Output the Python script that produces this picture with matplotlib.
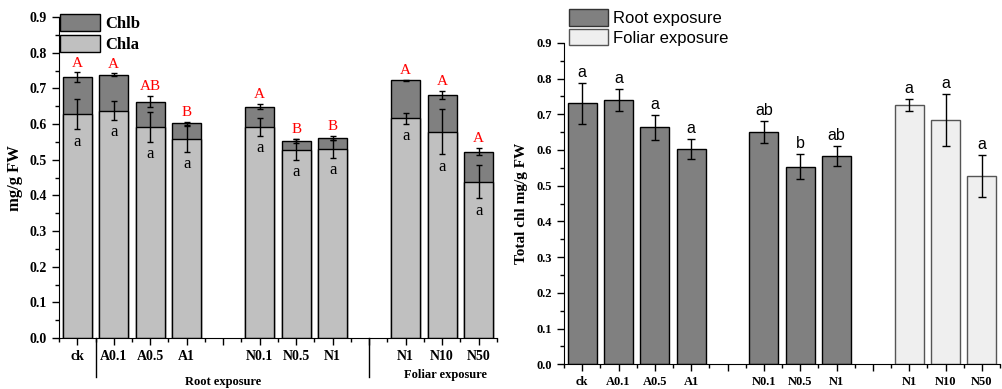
import numpy as np
import matplotlib
matplotlib.use('Agg')
import matplotlib.pyplot as plt
from matplotlib.patches import Patch
from matplotlib.ticker import MultipleLocator, FormatStrFormatter

# categories (blank slots split the groups)
labels = ['ck', 'A0.1', 'A0.5', 'A1', 'N0.1', 'N0.5', 'N1', 'N1', 'N10', 'N50']
pos = np.array([1, 2, 3, 4, 6, 7, 8, 10, 11, 12])

# left panel: stacked Chla + Chlb
chla = [0.627, 0.638, 0.592, 0.559, 0.592, 0.528, 0.530, 0.616, 0.578, 0.438]
chla_err = [0.042, 0.027, 0.041, 0.036, 0.026, 0.029, 0.024, 0.016, 0.063, 0.046]
total = [0.731, 0.738, 0.663, 0.602, 0.649, 0.552, 0.561, 0.723, 0.682, 0.523]
total_err = [0.014, 0.004, 0.015, 0.004, 0.007, 0.006, 0.006, 0.002, 0.012, 0.010]
upper_letters = ['A', 'A', 'AB', 'B', 'A', 'B', 'B', 'A', 'A', 'A']
lower_letters = ['a'] * 10

# right panel: total chl
tot2 = [0.731, 0.739, 0.663, 0.602, 0.650, 0.553, 0.583, 0.725, 0.685, 0.527]
tot2_err = [0.057, 0.031, 0.035, 0.028, 0.031, 0.035, 0.028, 0.017, 0.073, 0.059]
tot2_letters = ['a', 'a', 'a', 'a', 'ab', 'b', 'ab', 'a', 'a', 'a']
is_root = [True] * 7 + [False] * 3

serif = 'Liberation Serif'
sans = 'Liberation Sans'

fig = plt.figure(figsize=(10.02, 3.89), dpi=100)
ax1 = fig.add_axes([0.0589, 0.131, 0.437, 0.825])
ax2 = fig.add_axes([0.563, 0.0635, 0.435, 0.8265])


def style_axis(ax, fs):
    for s in ['top', 'right']:
        ax.spines[s].set_visible(False)
    ax.set_ylim(0, 0.9)
    ax.set_xlim(0.5, 12.45)
    ax.yaxis.set_major_locator(MultipleLocator(0.1))
    ax.yaxis.set_minor_locator(MultipleLocator(0.05))
    ax.yaxis.set_major_formatter(FormatStrFormatter('%.1f'))
    ax.set_xticks(np.arange(1, 13))
    ax.set_xticks(np.arange(0.5, 12.6, 0.5), minor=True)
    ticklab = [''] * 12
    for p, l in zip(pos, labels):
        ticklab[p - 1] = l
    ax.set_xticklabels(ticklab)
    ax.tick_params(which='major', direction='out', length=5, width=1, labelsize=fs)
    ax.tick_params(which='minor', direction='out', length=3, width=1)
    for t in ax.get_xticklabels() + ax.get_yticklabels():
        t.set_fontfamily(serif)
        t.set_fontweight('bold')


# ---- left panel
ax1.bar(pos, total, width=0.8, color='#808080', edgecolor='black', linewidth=1, zorder=2)
ax1.bar(pos, chla, width=0.8, color='#c0c0c0', edgecolor='black', linewidth=1, zorder=2)
ax1.errorbar(pos, total, yerr=total_err, fmt='none', ecolor='black', elinewidth=1,
             capsize=2.5, capthick=1, zorder=3)
ax1.errorbar(pos, chla, yerr=chla_err, fmt='none', ecolor='black', elinewidth=1,
             capsize=2.5, capthick=1, zorder=3)
for p, t, e, l in zip(pos, total, total_err, upper_letters):
    ax1.text(p, t + e + 0.008, l, ha='center', va='bottom', color='red',
             fontsize=11, family=serif)
for p, c, e, l in zip(pos, chla, chla_err, lower_letters):
    ax1.text(p, c - e - 0.012, l, ha='center', va='top', color='black',
             fontsize=12, family=serif)
style_axis(ax1, 10)
ax1.set_ylabel('mg/g FW', fontsize=12, family=serif, fontweight='bold', labelpad=5)

# group separators and names below the left axis
trans = ax1.get_xaxis_transform()
for x in [1.5, 9.0]:
    ax1.plot([x, x], [0, -0.12], transform=trans, color='black', lw=1, clip_on=False)
ax1.text(5.0, -0.137, 'Root exposure', transform=trans, ha='center', va='center',
         fontsize=9, family=serif, fontweight='bold')
ax1.text(11.1, -0.115, 'Foliar exposure', transform=trans, ha='center', va='center',
         fontsize=9, family=serif, fontweight='bold')

ax1.legend(handles=[Patch(facecolor='#808080', edgecolor='black', label='Chlb'),
                    Patch(facecolor='#c0c0c0', edgecolor='black', label='Chla')],
           loc='upper left', bbox_to_anchor=(0.002, 1.009), frameon=False,
           handlelength=2.4, handleheight=1.15, labelspacing=0.17,
           handletextpad=0.3, borderaxespad=0.0, borderpad=0.0,
           prop={'family': serif, 'weight': 'bold', 'size': 12})

# ---- right panel
colors = ['#808080' if r else '#efefef' for r in is_root]
edges = ['black' if r else '#555555' for r in is_root]
ax2.bar(pos, tot2, width=0.8, color=colors, edgecolor=edges, linewidth=1, zorder=2)
ax2.errorbar(pos, tot2, yerr=tot2_err, fmt='none', ecolor='black', elinewidth=1,
             capsize=3, capthick=1, zorder=3)
for p, t, e, l in zip(pos, tot2, tot2_err, tot2_letters):
    ax2.text(p, t + e + 0.008, l, ha='center', va='bottom', color='black',
             fontsize=11.5, family=sans)
style_axis(ax2, 9)
ax2.set_ylabel('Total chl mg/g FW', fontsize=11, family=serif, fontweight='bold', labelpad=6)

ax2.legend(handles=[Patch(facecolor='#808080', edgecolor='#333333', label='Root exposure'),
                    Patch(facecolor='#efefef', edgecolor='#555555', label='Foliar exposure')],
           loc='upper left', bbox_to_anchor=(0.012, 1.105), frameon=False,
           handlelength=2.3, handleheight=1.15, labelspacing=0.18,
           handletextpad=0.3, borderaxespad=0.0, borderpad=0.0,
           prop={'family': sans, 'size': 12})

fig.savefig('out.png', dpi=100)
